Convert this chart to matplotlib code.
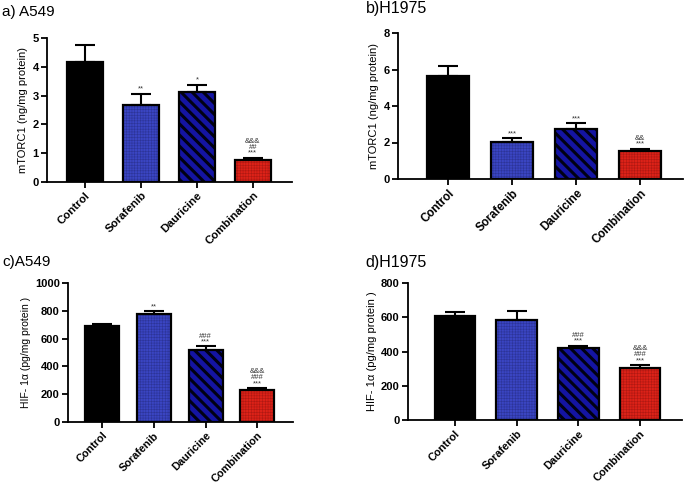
import matplotlib
matplotlib.use("Agg")
import matplotlib.pyplot as plt
import numpy as np

plt.rcParams['font.family'] = ['Liberation Sans', 'DejaVu Sans']

categories = ["Control", "Sorafenib", "Dauricine", "Combination"]

# Panel a) A549 mTORC1
a_means = [4.15, 2.67, 3.11, 0.75]
a_errs = [0.62, 0.40, 0.27, 0.10]
a_annot = ["", "**", "*", "&&&\n##\n***"]

# Panel b) H1975 mTORC1
b_means = [5.66, 2.01, 2.74, 1.55]
b_errs = [0.55, 0.24, 0.33, 0.11]
b_annot = ["", "***", "***", "&&\n***"]

# Panel c) A549 HIF-1a
c_means = [691, 775, 516, 228]
c_errs = [16, 24, 28, 17]
c_annot = ["", "**", "###\n***", "&&&\n###\n***"]

# Panel d) H1975 HIF-1a
d_means = [605, 583, 418, 306]
d_errs = [25, 51, 17, 14]
d_annot = ["", "", "###\n***", "&&&\n###\n***"]

a_yticks = [0, 1, 2, 3, 4, 5]
b_yticks = [0, 2, 4, 6, 8]
c_yticks = [0, 200, 400, 600, 800, 1000]
d_yticks = [0, 200, 400, 600, 800]

fills = ['#000000', '#3a45c2', '#1414a2', '#dc2218']
hatch_colors = ['#000000', '#2c3498', '#000014', '#b01812']
hatches = [None, '++++++', '\\\\\\', '++++++']
hatch_lws = [0.5, 0.4, 2.2, 0.4]

W, H = 685, 483
fig = plt.figure(figsize=(6.85, 4.83), dpi=100)


def axes_px(left, right, top, bottom):
    return fig.add_axes([left / W, 1 - bottom / H, (right - left) / W, (bottom - top) / H])


def panel(ax, means, errs, annots, yticks, ylabel, xlim, width, ann_pad, capsize,
          xfs, yfs):
    x = np.arange(len(categories))
    ax.errorbar(x, means, yerr=[np.zeros(len(errs)), errs], fmt='none',
                ecolor='black', elinewidth=1.5, capsize=capsize, capthick=1.5, zorder=1)
    bars = ax.bar(x, means, width, color=fills, edgecolor=hatch_colors, linewidth=0, zorder=2)
    for p, h, lw in zip(bars, hatches, hatch_lws):
        if h:
            p.set_hatch(h)
            if hasattr(p, 'set_hatch_linewidth'):
                p.set_hatch_linewidth(lw)
    ax.bar(x, means, width, fill=False, edgecolor='black', linewidth=1.6, zorder=3)
    for xi, m, e, t in zip(x, means, errs, annots):
        if t:
            ax.text(xi, m + e + ann_pad, t, ha='center', va='bottom', fontsize=5.5,
                    linespacing=0.8, color='#333333', zorder=4)
    ax.set_xlim(*xlim)
    ax.set_ylim(yticks[0], yticks[-1])
    ax.set_yticks(yticks)
    ax.set_xticks(x)
    ax.set_xticklabels(categories, rotation=45, ha='right', rotation_mode='anchor',
                       fontweight='bold', fontsize=xfs)
    for lab in ax.get_yticklabels():
        lab.set_fontweight('bold')
        lab.set_fontsize(8)
    ax.set_ylabel(ylabel, fontsize=yfs, labelpad=3)
    for s in ['top', 'right']:
        ax.spines[s].set_visible(False)
    for s in ['left', 'bottom']:
        ax.spines[s].set_linewidth(1.3)
    ax.tick_params(axis='both', direction='out', length=4, width=1.3, pad=2)
    ax.tick_params(axis='x', pad=2)


ax_a = axes_px(47, 292, 38, 182)
panel(ax_a, a_means, a_errs, a_annot, a_yticks, "mTORC1 (ng/mg protein)",
      (-0.68, 3.70), 0.64, 0.03, 7, 8.2, 8)
ax_b = axes_px(398, 683, 33, 179)
panel(ax_b, b_means, b_errs, b_annot, b_yticks, "mTORC1 (ng/mg protein)",
      (-0.78, 3.67), 0.65, 0.05, 7, 8.4, 8)
ax_c = axes_px(68, 293, 283, 422)
panel(ax_c, c_means, c_errs, c_annot, c_yticks, "HIF- 1\u03b1 (pg/mg protein )",
      (-0.66, 3.69), 0.66, 6, 7, 7.8, 7.5)
ax_d = axes_px(408, 682, 283, 420)
panel(ax_d, d_means, d_errs, d_annot, d_yticks, "HIF- 1\u03b1 (pg/mg protein )",
      (-0.76, 3.68), 0.66, 5, 7, 7.9, 8)

fig.text(2 / W, 1 - 12 / H, "a) A549", fontsize=11, va='center', ha='left')
fig.text(366 / W, 1 - 9 / H, "b)H1975", fontsize=11.5, va='center', ha='left')
fig.text(2 / W, 1 - 262 / H, "c)A549", fontsize=11, va='center', ha='left')
fig.text(365 / W, 1 - 262 / H, "d)H1975", fontsize=11.5, va='center', ha='left')

fig.savefig("out.png", dpi=100)
